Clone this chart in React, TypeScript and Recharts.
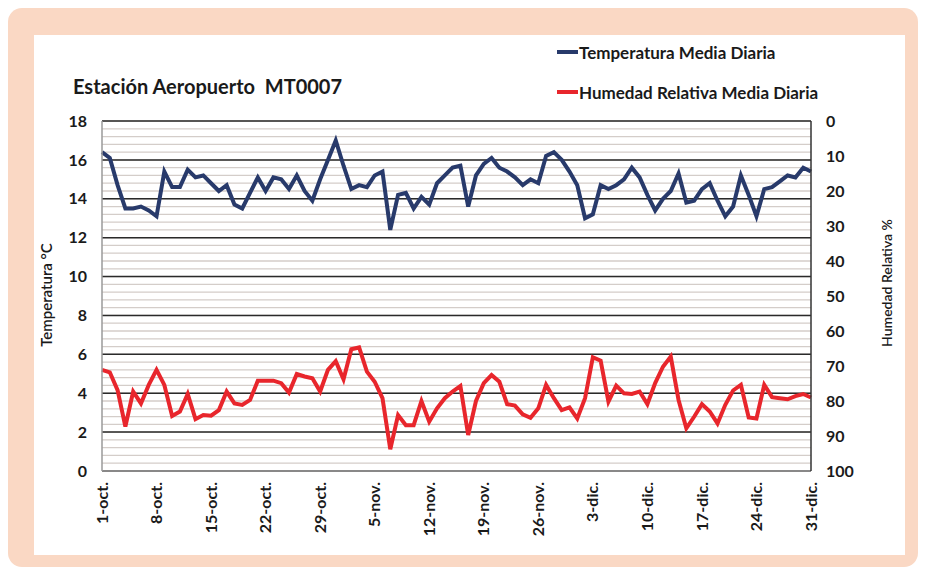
import React from 'react';
import { LineChart, Line, XAxis, YAxis, CartesianGrid } from 'recharts';

// Daily values, 1-oct. to 31-dic.
const months = [
  { name: 'oct.', days: 31 },
  { name: 'nov.', days: 30 },
  { name: 'dic.', days: 31 },
];
const dates: string[] = [];
months.forEach(m => {
  for (let d = 1; d <= m.days; d++) dates.push(`${d}-${m.name}`);
});

const temperatura = [
  16.4, 16.1, 14.7, 13.5, 13.5, 13.6, 13.4, 13.1, 15.4, 14.6,
  14.6, 15.5, 15.1, 15.2, 14.8, 14.4, 14.7, 13.7, 13.5, 14.3,
  15.1, 14.4, 15.1, 15.0, 14.5, 15.2, 14.4, 13.9, 15.0, 16.0,
  17.0, 15.7, 14.5, 14.7, 14.6, 15.2, 15.4, 12.4, 14.2, 14.3,
  13.5, 14.1, 13.7, 14.8, 15.2, 15.6, 15.7, 13.6, 15.2, 15.8,
  16.1, 15.6, 15.4, 15.1, 14.7, 15.0, 14.8, 16.2, 16.4, 16.0,
  15.4, 14.7, 13.0, 13.2, 14.7, 14.5, 14.7, 15.0, 15.6, 15.1,
  14.2, 13.4, 14.0, 14.4, 15.3, 13.8, 13.9, 14.5, 14.8, 13.9,
  13.1, 13.6, 15.2, 14.2, 13.1, 14.5, 14.6, 14.9, 15.2, 15.1,
  15.6, 15.4,
];

const humedad = [
  71.1, 71.8, 76.9, 87.3, 77.3, 80.7, 75.4, 71.1, 75.4, 84.3,
  83.0, 78.0, 85.2, 84.0, 84.2, 82.6, 77.3, 80.7, 81.1, 79.7,
  74.2, 74.2, 74.2, 74.9, 77.6, 72.3, 73.0, 73.5, 77.3, 71.1,
  68.6, 73.8, 65.2, 64.7, 71.6, 74.5, 79.2, 93.8, 84.0, 86.9,
  86.9, 80.0, 85.9, 82.1, 79.2, 77.3, 75.7, 89.7, 80.0, 74.9,
  72.6, 74.5, 80.9, 81.3, 83.8, 84.8, 82.1, 75.4, 79.2, 82.6,
  81.8, 85.0, 79.2, 67.5, 68.5, 80.2, 75.6, 77.8, 78.0, 77.3,
  80.9, 74.9, 70.2, 67.3, 79.7, 87.8, 84.5, 80.9, 83.0, 86.4,
  81.1, 77.0, 75.4, 84.7, 85.0, 75.4, 78.9, 79.2, 79.5, 78.6,
  78.0, 79.0,
];

const TEMP_MAX = 18;
const tempTicks = [0, 2, 4, 6, 8, 10, 12, 14, 16, 18];
const humTicks = [0, 10, 20, 30, 40, 50, 60, 70, 80, 90, 100];
// minor gridlines every 0.4 °C
const minorTicks: number[] = [];
for (let i = 0; i <= 45; i++) minorTicks.push(Math.round(i * 0.4 * 10) / 10);

const data = dates.map((date, i) => ({
  date,
  temp: temperatura[i],
  hum: humedad[i],
}));

const FONT = 'Lato, "Open Sans", sans-serif';
const BLUE = '#283a6b';
const RED = '#e8262c';
const INK = '#1a1a1a';

const XTick = (props: any) => {
  const { x, y, payload } = props;
  return (
    <text
      x={x}
      y={y}
      dy="0.35em"
      transform={`rotate(-90 ${x} ${y})`}
      textAnchor="end"
      fontFamily={FONT}
      fontWeight={700}
      fontSize={16}
      fill={INK}
    >
      {payload.value}
    </text>
  );
};

const tickStyle = { fontFamily: FONT, fontWeight: 700, fontSize: 16, fill: INK };

const minorGen = (props: any) => {
  const scale = props?.yAxis?.scale;
  if (typeof scale === 'function') return minorTicks.map(v => scale(v));
  if (scale && typeof scale.map === 'function') return minorTicks.map(v => scale.map(v));
  const off = props?.offset;
  if (!off) return [];
  return minorTicks.map(v => off.top + off.height * (1 - v / TEMP_MAX));
};

export default function App() {
  return (
    <div
      style={{
        position: 'relative',
        width: 910,
        height: 559,
        background: '#fad8c4',
        borderRadius: 14,
        fontFamily: FONT,
      }}
    >
      <div
        style={{
          position: 'absolute',
          left: 26,
          top: 27,
          width: 871,
          height: 520,
          background: '#ffffff',
        }}
      >
        <LineChart
          width={871}
          height={520}
          data={data}
          margin={{ top: 86, right: 34, bottom: 0, left: 0 }}
        >
          <CartesianGrid
            yAxisId="temp"
            vertical={false}
            horizontalCoordinatesGenerator={minorGen}
            stroke="#d4cdc9"
            strokeWidth={1.3}
          />
          <CartesianGrid yAxisId="temp" vertical={false} stroke="#2a2a2a" strokeWidth={1.5} />
          <XAxis
            dataKey="date"
            interval={6}
            height={84}
            tickLine={false}
            tickSize={0}
            tickMargin={11}
            axisLine={{ stroke: '#9a9a9a', strokeWidth: 1.5 }}
            tick={<XTick />}
          />
          <YAxis
            yAxisId="temp"
            domain={[0, TEMP_MAX]}
            ticks={tempTicks}
            width={68}
            tickLine={false}
            tickSize={0}
            tickMargin={15}
            axisLine={{ stroke: '#9a9a9a', strokeWidth: 1.5 }}
            tick={tickStyle}
          />
          <YAxis
            yAxisId="hum"
            orientation="right"
            reversed
            domain={[0, 100]}
            ticks={humTicks}
            width={60}
            tickLine={false}
            tickSize={0}
            tickMargin={15}
            axisLine={{ stroke: '#333333', strokeWidth: 1.5 }}
            tick={tickStyle}
          />
          <Line
            yAxisId="temp"
            dataKey="temp"
            stroke={BLUE}
            strokeWidth={4}
            dot={false}
            isAnimationActive={false}
          />
          <Line
            yAxisId="hum"
            dataKey="hum"
            stroke={RED}
            strokeWidth={4}
            dot={false}
            isAnimationActive={false}
          />
        </LineChart>

        <div
          style={{
            position: 'absolute',
            left: 39,
            top: 39,
            fontSize: 20,
            fontWeight: 700,
            color: INK,
            whiteSpace: 'pre',
            lineHeight: '24px',
          }}
        >
          {'Estación Aeropuerto  MT0007'}
        </div>

        {[
          { label: 'Temperatura Media Diaria', color: BLUE, y: 17 },
          { label: 'Humedad Relativa Media Diaria', color: RED, y: 57 },
        ].map(item => (
          <div
            key={item.label}
            style={{
              position: 'absolute',
              left: 523,
              top: item.y - 11,
              height: 22,
              display: 'flex',
              alignItems: 'center',
              fontSize: 17,
              fontWeight: 700,
              color: INK,
              whiteSpace: 'nowrap',
            }}
          >
            <span style={{ display: 'inline-block', width: 21, height: 4, background: item.color, marginRight: 1 }} />
            {item.label}
          </div>
        ))}

        <div
          style={{
            position: 'absolute',
            left: 12,
            top: 260,
            transform: 'translate(-50%, -50%) rotate(-90deg)',
            fontSize: 15,
            fontWeight: 600,
            color: INK,
            whiteSpace: 'nowrap',
          }}
        >
          Temperatura °C
        </div>
        <div
          style={{
            position: 'absolute',
            left: 852,
            top: 248,
            transform: 'translate(-50%, -50%) rotate(-90deg)',
            fontSize: 14,
            fontWeight: 600,
            color: INK,
            whiteSpace: 'nowrap',
          }}
        >
          Humedad Relativa %
        </div>
      </div>
    </div>
  );
}
